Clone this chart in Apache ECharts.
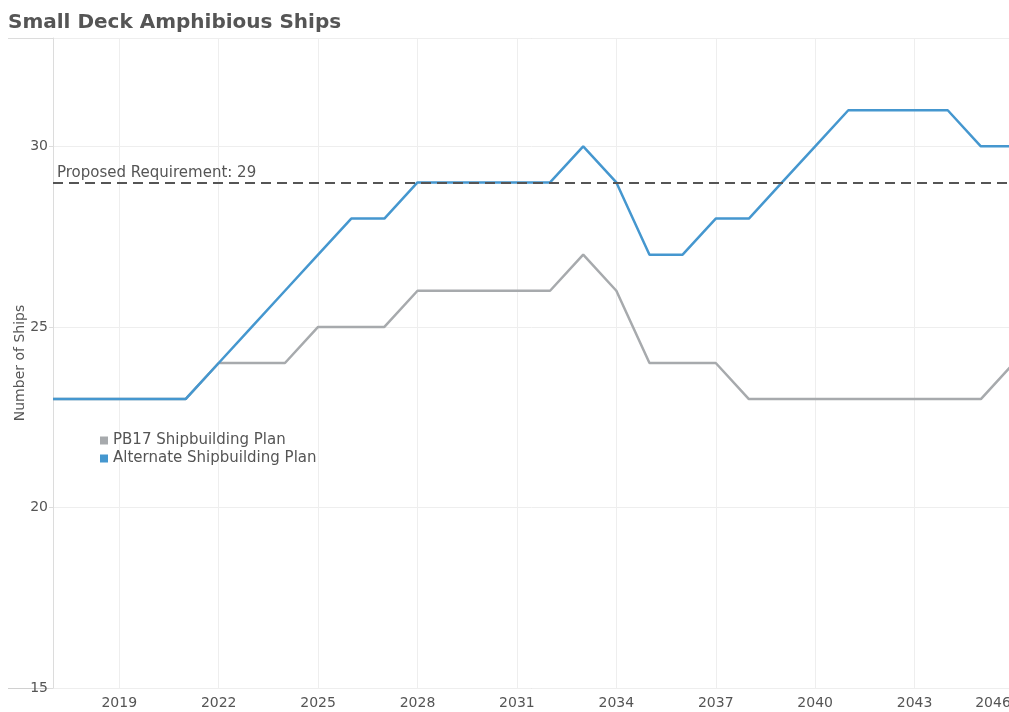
<!DOCTYPE html>
<html>
<head>
<meta charset="utf-8">
<script src="https://cdn.jsdelivr.net/npm/echarts@6/dist/echarts.min.js"></script>
<style>
  html, body { margin: 0; padding: 0; background: #fff; }
  #main { width: 1009px; height: 712px; }
</style>
</head>
<body>
<div id="main"></div>
<script>
// data
var years = [2017, 2018, 2019, 2020, 2021, 2022, 2023, 2024, 2025, 2026, 2027, 2028, 2029, 2030, 2031,
             2032, 2033, 2034, 2035, 2036, 2037, 2038, 2039, 2040, 2041, 2042, 2043, 2044, 2045, 2046];
var pb17 = [23, 23, 23, 23, 23, 24, 24, 24, 25, 25, 25, 26, 26, 26, 26,
            26, 27, 26, 24, 24, 24, 23, 23, 23, 23, 23, 23, 23, 23, 24];
var alternate = [23, 23, 23, 23, 23, 24, 25, 26, 27, 28, 28, 29, 29, 29, 29,
                 29, 30, 29, 27, 27, 28, 28, 29, 30, 31, 31, 31, 31, 30, 30];
var yearTicks = [2019, 2022, 2025, 2028, 2031, 2034, 2037, 2040, 2043, 2046];
var requirement = 29;

var seriesNames = ['PB17 Shipbuilding Plan', 'Alternate Shipbuilding Plan'];
var colors = ['#a7aaad', '#4597cf'];

function pairs(vals) {
    return years.map(function (y, i) { return [y, vals[i]]; });
}

var font = '"DejaVu Sans", "Noto Sans", sans-serif';
var chart = echarts.init(document.getElementById('main'));

var option = {
    animation: false,
    textStyle: { fontFamily: font },
    title: {
        text: 'Small Deck Amphibious Ships',
        left: 3,
        top: 8,
        textStyle: { fontFamily: font, fontSize: 20, fontWeight: 'bold', color: '#555' }
    },
    legend: {
        data: seriesNames,
        orient: 'vertical',
        left: 95,
        top: 428,
        icon: 'rect',
        itemWidth: 8,
        itemHeight: 8,
        itemGap: 3,
        textStyle: { fontFamily: font, fontSize: 15, color: '#555' }
    },
    grid: { left: 53, right: -5, top: 38, bottom: 24, outerBoundsMode: 'none', containLabel: false },
    xAxis: {
        type: 'value',
        min: 2017,
        max: 2046,
        axisLine: { show: false },
        axisTick: { show: false, customValues: yearTicks },
        axisLabel: {
            customValues: yearTicks,
            // last year sits past the right edge; pad it so it reads right-aligned
            formatter: function (v) { return v === 2046 ? '{last|' + v + '}' : String(v); },
            rich: { last: { padding: [0, 42, 0, 0], fontSize: 14, color: '#555' } },
            color: '#555',
            fontSize: 14,
            margin: 8
        },
        splitLine: { show: true, lineStyle: { color: '#eeeeee', width: 1 } }
    },
    yAxis: {
        type: 'value',
        min: 15,
        max: 33,
        interval: 5,
        name: 'Number of Ships',
        nameLocation: 'middle',
        nameGap: 26,
        nameMoveOverlap: false,
        nameTextStyle: { color: '#555', fontSize: 14 },
        axisLine: { show: true, lineStyle: { color: '#dcdcdc' } },
        axisTick: { show: true, length: 4, lineStyle: { color: '#dcdcdc' } },
        axisLabel: { color: '#555', fontSize: 14, margin: 5, showMaxLabel: false },
        splitLine: { show: true, lineStyle: { color: '#eeeeee', width: 1 } }
    },
    series: [
        {
            name: seriesNames[0],
            type: 'line',
            data: pairs(pb17),
            symbol: 'none',
            color: colors[0],
            lineStyle: { width: 2.5, color: colors[0] }
        },
        {
            name: seriesNames[1],
            type: 'line',
            data: pairs(alternate),
            symbol: 'none',
            color: colors[1],
            lineStyle: { width: 2.5, color: colors[1] },
            markLine: {
                silent: true,
                symbol: 'none',
                lineStyle: { color: '#555', width: 2, type: [10, 6] },
                label: {
                    position: 'insideStartTop',
                    formatter: 'Proposed Requirement: ' + requirement,
                    color: '#555',
                    fontSize: 15,
                    distance: [4, 2]
                },
                data: [{ yAxis: requirement }]
            }
        }
    ],
    graphic: [
        {
            type: 'line',
            shape: { x1: 8, y1: 38.5, x2: 1009, y2: 38.5 },
            style: { stroke: '#dcdcdc', lineWidth: 1 }
        },
        {
            type: 'line',
            shape: { x1: 8, y1: 688.5, x2: 1009, y2: 688.5 },
            style: { stroke: '#d0d0d0', lineWidth: 1 }
        }
    ]
};

chart.setOption(option);
</script>
</body>
</html>
